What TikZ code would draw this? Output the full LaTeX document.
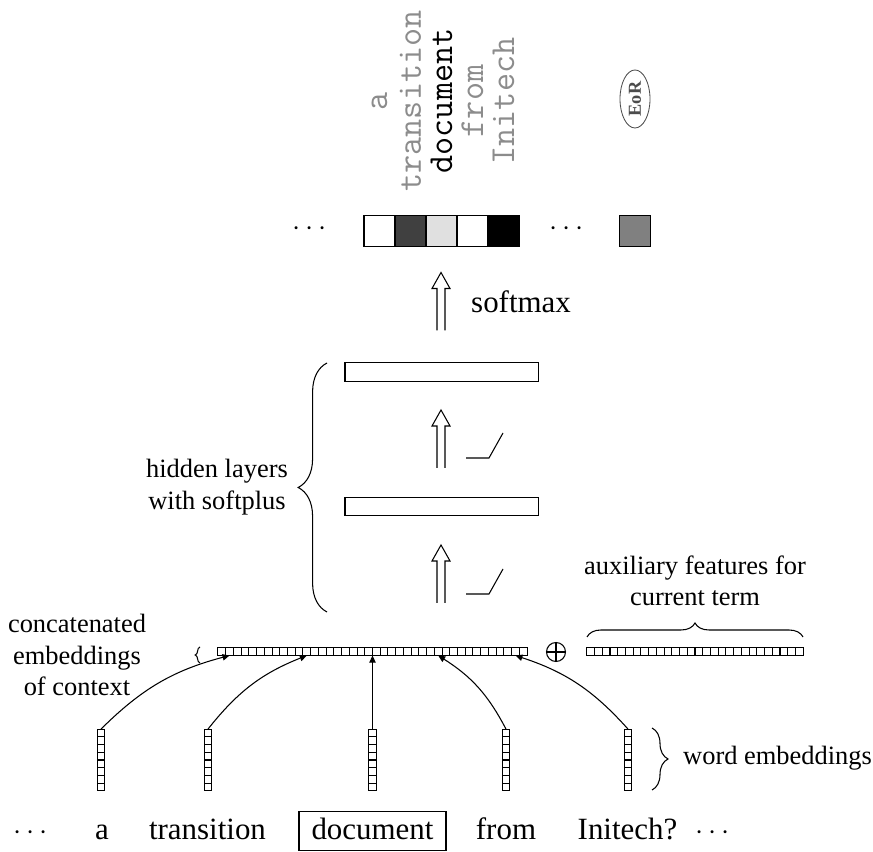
\documentclass[tikz,border=0pt]{standalone}
\usepackage{fontspec}
\setmainfont{Liberation Serif}
\usetikzlibrary{arrows.meta}
\usetikzlibrary{decorations.pathreplacing}
\usetikzlibrary{shapes.geometric}

\begin{document}
\begin{tikzpicture}[
	x=0.025cm, y=0.025cm,
	line width=0.75pt,
	word/.style={anchor=base, font=\fontsize{22}{26}\selectfont},
	label/.style={align=center, font=\fontsize{18.8}{22.5}\selectfont},
	outcell/.style={draw, minimum size=0.775cm, inner sep=0pt, outer sep=0pt},
	outword/.style={rotate=90, inner sep=0pt, font=\ttfamily\fontsize{25}{29}\selectfont},
	layer/.style={draw, inner sep=0pt, minimum width=4.825cm, minimum height=0.46cm},
	embed/.style={draw, inner sep=0pt, outer sep=0pt, minimum width=0.193cm, minimum height=1.545cm},
	tip/.style={-{Triangle[length=5pt,width=4.5pt]}},
	fatarrow/.pic={\draw (-4,-29) -- (-4,13) -- (-9,13) -- (0,29) -- (9,13) -- (4,13) -- (4,-29);},
	relu/.pic={\draw (0,0) -- (23,0) -- (37,25);}
]
	\useasboundingbox (0,0) rectangle (873,852);

	% output layer
	\node[word, anchor=center] (ldots) at (310,623) {$\cdots$};
	\foreach \c/\x [count=\i] in {white/379.5, black!75/410.5, black!12/441.5, white/472.5, black/503.5}
		\node[outcell, fill=\c] (o\i) at (\x,621) {};
	\node[word, anchor=center] (mdots) at (567,623) {$\cdots$};
	\node[outcell, fill=black!50] (oeor) at (635,621) {};

	\node[outword, black!45] (t1) at (379.5,751) {a};
	\node[outword, black!45] (t2) at (410.5,751) {transition};
	\node[outword] (t3) at (441.5,751) {document};
	\node[outword, black!45] (t4) at (472.5,751) {from};
	\node[outword, black!45] (t5) at (503.5,751) {Initech};
	\node[
		draw=black!70,
		ellipse,
		rotate=90,
		line width=0.6pt,
		minimum width=1.45cm,
		minimum height=0.75cm,
		inner sep=0pt,
		text=black!70,
		font=\bfseries\fontsize{13}{15}\selectfont
	] (eor) at (635,753) {EoR};

	\pic at (441,550.5) {fatarrow};
	\node[word, anchor=base west] (smax) at (466,539) {softmax};

	% hidden layers
	\node[layer] (h1) at (441.5,345.5) {};
	\node[layer] (h2) at (441.5,480) {};
	\pic at (441,278) {fatarrow};
	\pic at (441,413) {fatarrow};
	\pic at (466,258) {relu};
	\pic at (466,394) {relu};
	\draw[decorate, decoration={brace, amplitude=0.72cm}] (327,240) -- (327,489);
	\node[label] (hid) at (217,365) {hidden layers\\with softplus};

	% concatenated embeddings
	\node[draw, inner sep=0pt, outer sep=0pt, minimum width=7.725cm, minimum height=0.193cm] (concat) at (372.5,200.35) {};
	\foreach \i in {1,...,39}
		\draw ([xshift=\i*0.193125cm]concat.south west) -- ([xshift=\i*0.193125cm]concat.north west);
	\draw[decorate, decoration={brace, amplitude=0.12cm}] (200,189) -- (200,205);
	\node[label] (ctx) at (77,197) {concatenated\\embeddings\\of context};

	\node[draw, circle, minimum size=0.475cm, inner sep=0pt] (plus) at (556,200) {};
	\draw (plus.north) -- (plus.south) (plus.west) -- (plus.east);

	% auxiliary features
	\node[draw, inner sep=0pt, outer sep=0pt, minimum width=5.4075cm, minimum height=0.193cm] (aux) at (695,200.35) {};
	\foreach \i in {1,...,27}
		\draw ([xshift=\i*0.193125cm]aux.south west) -- ([xshift=\i*0.193125cm]aux.north west);
	\draw[decorate, decoration={brace, amplitude=0.35cm}] (587,215) -- (803,215);
	\node[label] (auxl) at (695,271) {auxiliary features for\\current term};

	% word embeddings
	\foreach \x [count=\i] in {101,208,372.5,506,628} {
		\node[embed] (e\i) at (\x,92) {};
		\foreach \j in {1,...,7}
			\draw ([yshift=\j*0.193125cm]e\i.south west) -- ([yshift=\j*0.193125cm]e\i.south east);
	}
	\coordinate (c1) at ([xshift=0.2897cm]concat.south west);
	\coordinate (c2) at ([xshift=2.2209cm]concat.south west);
	\coordinate (c3) at ([xshift=3.8625cm]concat.south west);
	\coordinate (c4) at ([xshift=5.5041cm]concat.south west);
	\coordinate (c5) at ([xshift=7.4353cm]concat.south west);
	\draw[tip] (e1.north) to[bend left=15] (c1);
	\draw[tip] (e2.north) to[bend left=15] (c2);
	\draw[tip] (e3.north) -- (c3);
	\draw[tip] (e4.north) to[bend right=15] (c4);
	\draw[tip] (e5.north) to[bend right=15] (c5);
	\draw[decorate, decoration={brace, amplitude=0.4cm}] (652,124) -- (652,62);
	\node[label, anchor=base west] (wel) at (678,87) {word embeddings};

	% input words
	\node[word] (b0) at (31,12) {$\cdots$};
	\node[word] (b1) at (102,12) {a};
	\node[word] (b2) at (207.5,12) {transition};
	\node[word, draw, inner xsep=8.9pt, inner ysep=3pt, text height=17.6pt, text depth=4.8pt] (b3) at (372.5,12) {document};
	\node[word] (b4) at (506,12) {from};
	\node[word] (b5) at (627.5,12) {Initech?};
	\node[word] (b6) at (713,12) {$\cdots$};
\end{tikzpicture}
\end{document}
